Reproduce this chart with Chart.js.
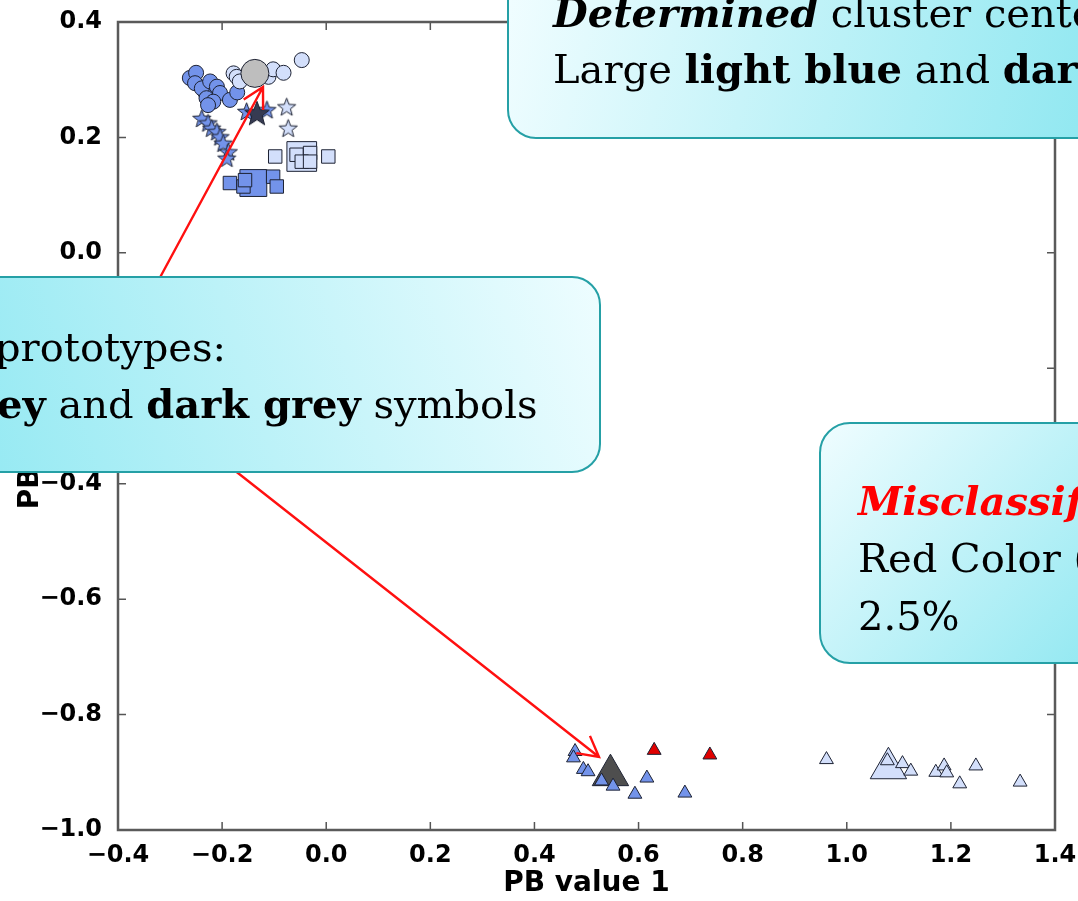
<!DOCTYPE html>
<html>
<head>
<meta charset="utf-8">
<script src="https://cdn.jsdelivr.net/npm/chart.js@4.4.1/dist/chart.umd.min.js"></script>
<style>
  html, body { margin: 0; padding: 0; background: #fff; overflow: hidden; }
  canvas { display: block; }
</style>
</head>
<body>
<canvas id="pbChart" width="1078" height="901"></canvas>
<script>
// upper cluster (circles, stars, squares) -- [PB value 1, PB value 2]
const blueCircles = [
  [-0.262, 0.303], [-0.250, 0.312], [-0.252, 0.294], [-0.239, 0.285], [-0.223, 0.297],
  [-0.210, 0.288], [-0.204, 0.277], [-0.230, 0.268], [-0.217, 0.262], [-0.185, 0.265],
  [-0.171, 0.278], [-0.227, 0.256]
];
const bigBlueCircle = [[-0.225, 0.282]];
const lightCircles = [
  [-0.178, 0.311], [-0.172, 0.305], [-0.166, 0.297], [-0.111, 0.305],
  [-0.102, 0.318], [-0.082, 0.312], [-0.047, 0.334]
];
const greyCircle = [[-0.137, 0.311]];

const blueStars = [
  [-0.239, 0.233], [-0.227, 0.225], [-0.220, 0.216], [-0.210, 0.210], [-0.204, 0.201],
  [-0.198, 0.190], [-0.188, 0.175], [-0.191, 0.164], [-0.153, 0.245], [-0.114, 0.248]
];
const lightStars = [[-0.076, 0.253], [-0.073, 0.216]];
const darkStar = [[-0.133, 0.242]];

const blueSquares = [
  [-0.185, 0.121], [-0.159, 0.115], [-0.156, 0.126], [-0.102, 0.132], [-0.095, 0.115]
];
const bigBlueSquare = [[-0.140, 0.121]];
const lightSquares = [
  [-0.098, 0.167], [0.004, 0.167], [-0.057, 0.170], [-0.031, 0.173],
  [-0.047, 0.158], [-0.031, 0.158]
];
const bigLightSquare = [[-0.047, 0.167]];

// lower cluster (triangles)
const blueTriangles = [
  [0.478, -0.864], [0.475, -0.875], [0.494, -0.895], [0.503, -0.899], [0.529, -0.915],
  [0.551, -0.924], [0.616, -0.910], [0.593, -0.938], [0.689, -0.936]
];
const darkTriangle = [[0.546, -0.905]];
const redTriangles = [[0.630, -0.862], [0.737, -0.870]];
const lightTriangles = [
  [0.961, -0.878], [1.078, -0.880], [1.107, -0.885], [1.123, -0.898], [1.171, -0.900],
  [1.187, -0.889], [1.192, -0.901], [1.217, -0.920], [1.248, -0.889], [1.333, -0.917]
];
const bigLightTriangle = [[1.080, -0.893]];

const xTicks = [-0.4, -0.2, 0.0, 0.2, 0.4, 0.6, 0.8, 1.0, 1.2, 1.4];
const yTicks = [-1.0, -0.8, -0.6, -0.4, -0.2, 0.0, 0.2, 0.4];

const BLUE = '#7393ea';
const LIGHT = '#d3dffb';
const GREY = '#bebebe';
const DARK = '#4e4e4e';
const RED = '#e00000';
const EDGE = '#1d2233';

const pts = arr => arr.map(([x, y]) => ({ x, y }));

function starImage(r, fill) {
  const c = document.createElement('canvas');
  const s = Math.ceil(r * 2 + 4);
  c.width = c.height = s;
  const g = c.getContext('2d');
  g.translate(s / 2, s / 2 + r * 0.08);
  g.beginPath();
  for (let i = 0; i < 10; i++) {
    const rad = i % 2 ? r * 0.42 : r;
    const ang = -Math.PI / 2 + i * Math.PI / 5;
    g.lineTo(Math.cos(ang) * rad, Math.sin(ang) * rad);
  }
  g.closePath();
  g.fillStyle = fill;
  g.fill();
  g.strokeStyle = EDGE;
  g.lineWidth = 1;
  g.stroke();
  return c;
}

function series(data, style, radius, fill) {
  return {
    data: pts(data),
    pointStyle: style,
    pointRadius: radius,
    pointBackgroundColor: fill,
    pointBorderColor: EDGE,
    pointBorderWidth: 1
  };
}

// listed in drawing order (first = bottom)
const drawList = [
  series(bigBlueCircle, 'circle', 12, BLUE),
  series(blueCircles, 'circle', 7.5, BLUE),
  series(lightCircles, 'circle', 7.5, LIGHT),
  series(greyCircle, 'circle', 14, GREY),
  series(blueStars, starImage(9.5, BLUE), 9, BLUE),
  series(lightStars, starImage(9.5, LIGHT), 9, LIGHT),
  series(darkStar, starImage(13, '#363b52'), 13, DARK),
  series(bigBlueSquare, 'rect', 19, BLUE),
  series(blueSquares, 'rect', 9.5, BLUE),
  series(bigLightSquare, 'rect', 21, LIGHT),
  series(lightSquares, 'rect', 9.5, LIGHT),
  series(darkTriangle, 'triangle', 21, DARK),
  series(blueTriangles, 'triangle', 8, BLUE),
  series(redTriangles, 'triangle', 8, RED),
  series(bigLightTriangle, 'triangle', 21, LIGHT),
  series(lightTriangles, 'triangle', 8, LIGHT)
];
drawList.forEach((d, i) => { d.order = drawList.length - i; });

const fmt = v => {
  if (Math.abs(v) < 1e-9) return '0.0';
  return v.toFixed(1).replace('-', '\u2212');
};

// matplotlib style box with inward ticks
const frameTicks = {
  id: 'frameTicks',
  afterDatasetsDraw(chart) {
    const { ctx, chartArea: a, scales: { x, y } } = chart;
    ctx.save();
    ctx.strokeStyle = '#555';
    ctx.lineWidth = 1.5;
    ctx.beginPath();
    xTicks.forEach(v => {
      const px = x.getPixelForValue(v);
      ctx.moveTo(px, a.bottom); ctx.lineTo(px, a.bottom - 8);
      ctx.moveTo(px, a.top); ctx.lineTo(px, a.top + 8);
    });
    yTicks.forEach(v => {
      const py = y.getPixelForValue(v);
      ctx.moveTo(a.left, py); ctx.lineTo(a.left + 8, py);
      ctx.moveTo(a.right, py); ctx.lineTo(a.right - 8, py);
    });
    ctx.stroke();
    ctx.lineWidth = 2.5;
    ctx.strokeStyle = '#5a5a5a';
    ctx.strokeRect(a.left, a.top, a.right - a.left, a.bottom - a.top);
    ctx.restore();
  }
};

function textRuns(ctx, x, y, parts) {
  parts.forEach(([text, font, color]) => {
    ctx.font = font;
    ctx.fillStyle = color || '#000';
    ctx.fillText(text, x, y);
    x += ctx.measureText(text).width;
  });
}

function roundBox(ctx, x, y, w, h, r, g0, g1, gx0, gy0, gx1, gy1) {
  const grad = ctx.createLinearGradient(gx0, gy0, gx1, gy1);
  grad.addColorStop(0, g0);
  grad.addColorStop(1, g1);
  ctx.beginPath();
  ctx.roundRect(x, y, w, h, r);
  ctx.fillStyle = grad;
  ctx.fill();
  ctx.lineWidth = 2;
  ctx.strokeStyle = '#25a0a6';
  ctx.stroke();
}

function arrow(ctx, x0, y0, x1, y1) {
  const ang = Math.atan2(y1 - y0, x1 - x0);
  const len = 23;
  ctx.beginPath();
  ctx.moveTo(x0, y0);
  ctx.lineTo(x1, y1);
  ctx.moveTo(x1 - len * Math.cos(ang - 0.5), y1 - len * Math.sin(ang - 0.5));
  ctx.lineTo(x1, y1);
  ctx.lineTo(x1 - len * Math.cos(ang + 0.5), y1 - len * Math.sin(ang + 0.5));
  ctx.stroke();
}

const callouts = {
  id: 'callouts',
  afterDraw(chart) {
    const ctx = chart.ctx;
    const REG = '40px "DejaVu Serif"';
    const BOLD = 'bold 40px "DejaVu Serif"';
    const BI = 'italic bold 40px "DejaVu Serif"';
    ctx.save();

    ctx.strokeStyle = '#ff1010';
    ctx.lineWidth = 2.4;
    arrow(ctx, 137, 320, 263, 87);
    arrow(ctx, 196, 440, 599, 757);

    ctx.textBaseline = 'alphabetic';
    ctx.textAlign = 'left';

    roundBox(ctx, 508, -40, 620, 178, 28, '#f0fdff', '#92e8f1', 508, 0, 1078, 138);
    textRuns(ctx, 553, 27, [['Determined', BI], [' cluster centers:', REG]]);
    textRuns(ctx, 553, 83, [['Large ', REG], ['light blue', BOLD], [' and ', REG], ['dark grey', BOLD], [' symbols', REG]]);

    roundBox(ctx, -40, 277, 640, 195, 28, '#98eaf3', '#eefdff', 0, 472, 600, 277);
    textRuns(ctx, -5, 361, [['prototypes:', REG]]);
    textRuns(ctx, -3, 418, [['ey', BOLD], [' and ', REG], ['dark grey', BOLD], [' symbols', REG]]);

    roundBox(ctx, 820, 423, 300, 240, 30, '#f0fdff', '#96e9f2', 820, 423, 1078, 663);
    textRuns(ctx, 858, 515, [['Misclassified:', BI, '#ff0000']]);
    textRuns(ctx, 858, 572, [['Red Color (triangles)', REG]]);
    textRuns(ctx, 858, 630, [['2.5%', REG]]);

    ctx.restore();
  }
};

const tickFont = { family: 'DejaVu Sans', weight: 'bold', size: 24 };
const titleFont = { family: 'DejaVu Sans', weight: 'bold', size: 28 };

new Chart(document.getElementById('pbChart').getContext('2d'), {
  type: 'scatter',
  data: { datasets: drawList },
  options: {
    responsive: false,
    animation: false,
    devicePixelRatio: 1,
    layout: { padding: { top: 22, right: 23, left: 0, bottom: 0 } },
    plugins: { legend: { display: false }, tooltip: { enabled: false } },
    scales: {
      x: {
        type: 'linear',
        min: -0.4,
        max: 1.4,
        grid: { display: false },
        border: { display: false },
        afterBuildTicks: s => { s.ticks = xTicks.map(v => ({ value: v })); },
        afterFit: s => { s.height = 71; s.paddingLeft = 0; s.paddingRight = 0; },
        ticks: { color: '#000', font: tickFont, padding: 3, autoSkip: false, maxRotation: 0, callback: fmt },
        title: { display: true, text: 'PB value 1', color: '#000', font: titleFont, padding: 0 }
      },
      y: {
        type: 'linear',
        min: -1.0,
        max: 0.4,
        grid: { display: false },
        border: { display: false },
        afterBuildTicks: s => { s.ticks = yTicks.map(v => ({ value: v })); },
        afterFit: s => { s.width = 118; s.paddingTop = 0; s.paddingBottom = 0; },
        ticks: { color: '#000', font: tickFont, padding: 8, autoSkip: false, callback: fmt },
        title: { display: true, text: 'PB value 2', color: '#000', font: titleFont, padding: { top: 14, bottom: 0 } }
      }
    }
  },
  plugins: [frameTicks, callouts]
});
</script>
</body>
</html>
